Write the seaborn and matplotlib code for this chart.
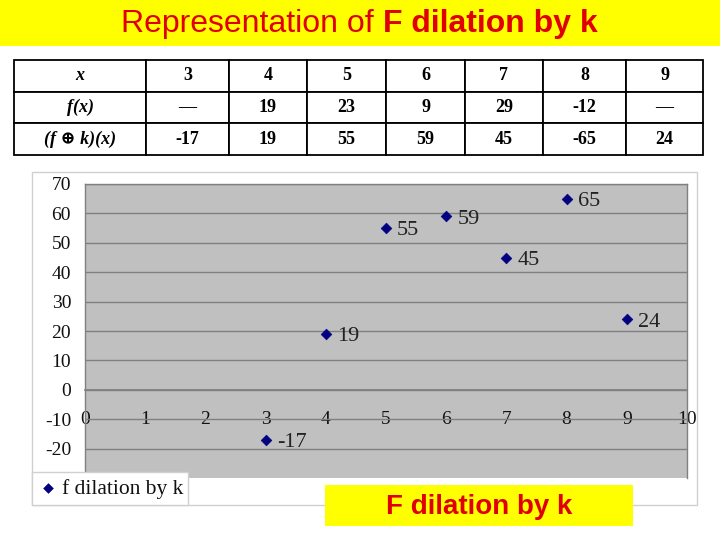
import numpy as np
import pandas as pd
import seaborn as sns
import matplotlib.pyplot as plt
from matplotlib.patches import Rectangle

# values
x_vals = [3, 4, 5, 6, 7, 8, 9]
fx_vals = ["—", "19", "23", "9", "29", "-12", "—"]
fk_table = ["-17", "19", "55", "59", "45", "-65", "24"]
# plotted points (the chart shows the x=8 point at 65)
fk_plot = [-17, 19, 55, 59, 45, 65, 24]
row_labels = ["x", "f(x)", "(f ⊕ k)(x)"]

df = pd.DataFrame({"x": x_vals, "y": fk_plot})

sns.set_theme(style="white")
plt.rcParams['font.family'] = ['Liberation Serif', 'DejaVu Serif']
plt.rcParams['axes.unicode_minus'] = False

fig = plt.figure(figsize=(7.2, 5.4), dpi=100)
W, H = 720, 540

def fbox(x0, y0, x1, y1):
    # pixel box (top-left origin) -> figure fraction rect
    return [x0 / W, 1 - y1 / H, (x1 - x0) / W, (y1 - y0) / H]

sans = ["Liberation Sans", "DejaVu Sans"]

# yellow title bar
fig.patches.append(Rectangle((0, 1 - 46 / H), 1, 46 / H, transform=fig.transFigure,
                             facecolor="#FFFF00", edgecolor="none", zorder=0))
fig.text(383 / W, 1 - 24 / H, "Representation of ", ha="right", va="center",
         fontsize=23, color="#E00000", family=sans, zorder=6)
fig.text(383 / W, 1 - 24 / H, "F dilation by k", ha="left", va="center",
         fontsize=23, color="#E00000", fontweight="bold", family=sans, zorder=6)

# table
tax = fig.add_axes(fbox(14, 60, 703, 155))
tax.set_zorder(1)
tax.axis("off")
cells = [[row_labels[0]] + [str(v) for v in x_vals],
         [row_labels[1]] + fx_vals,
         [row_labels[2]] + fk_table]
col_px = [132, 83, 78, 79, 79, 78, 83, 77]
col_w = [c / sum(col_px) for c in col_px]
tbl = tax.table(cellText=cells, colWidths=col_w, bbox=[0, 0, 1, 1], cellLoc="center")
tbl.auto_set_font_size(False)
for (r, c), cell in tbl.get_celld().items():
    cell.set_edgecolor("black")
    cell.set_linewidth(1.3)
    t = cell.get_text()
    t.set_fontsize(13)
    t.set_fontweight("bold")
    t.set_color("black")
    if c == 0:
        t.set_fontstyle("italic")

# chart outer frame
fig.patches.append(Rectangle((32 / W, 1 - 505 / H), 665 / W, 333 / H,
                             transform=fig.transFigure, facecolor="white",
                             edgecolor="#D0D0D0", linewidth=1, zorder=0))

ax = fig.add_axes(fbox(85, 184, 687, 478))
ax.set_zorder(2)
ax.set_facecolor("#C0C0C0")
ax.set_xlim(0, 10)
ax.set_ylim(-30, 70)
ax.set_yticks(np.arange(-20, 71, 10))
ax.set_xticks(np.arange(0, 11, 1))
ax.yaxis.grid(True, color="#808080", linewidth=1)
ax.set_axisbelow(True)
for s in ["top", "right", "left"]:
    ax.spines[s].set_color("#808080")
    ax.spines[s].set_linewidth(1)
ax.spines["bottom"].set_position(("data", 0))
ax.spines["bottom"].set_color("#808080")
ax.tick_params(axis="y", length=0, labelsize=14, labelcolor="#111111", pad=10)
ax.tick_params(axis="x", direction="in", length=5, color="#808080",
               labelsize=14, labelcolor="#111111", pad=15)

sns.scatterplot(data=df, x="x", y="y", marker="D", s=30, color="#000080",
                edgecolor="#000080", ax=ax, label="f dilation by k", zorder=3)
for xv, yv in zip(x_vals, fk_plot):
    ax.annotate(str(yv), (xv, yv), xytext=(8, -2), textcoords="offset points",
                va="center", ha="left", fontsize=16, color="#222222")
ax.set_xlabel("")
ax.set_ylabel("")

leg = ax.legend(loc="lower left", bbox_to_anchor=fbox(32, 470, 188, 505),
                bbox_transform=fig.transFigure, mode="expand", frameon=True,
                fontsize=15.5, handletextpad=0.2, borderaxespad=0,
                fancybox=False, markerscale=0.9, handlelength=0.9,
                borderpad=0.3)
leg.get_frame().set_edgecolor("#D0D0D0")
leg.get_frame().set_facecolor("white")
leg.get_frame().set_alpha(1)
for t in leg.get_texts():
    t.set_color("#111111")

# yellow label box
fig.patches.append(Rectangle((325 / W, 1 - 526 / H), 308 / W, 41 / H,
                             transform=fig.transFigure, facecolor="#FFFF00",
                             edgecolor="none", zorder=5))
fig.text(479 / W, 1 - 507 / H, "F dilation by k", ha="center", va="center",
         fontsize=20, color="#E00000", fontweight="bold", zorder=6, family=sans)

fig.savefig("out.png", dpi=100)
